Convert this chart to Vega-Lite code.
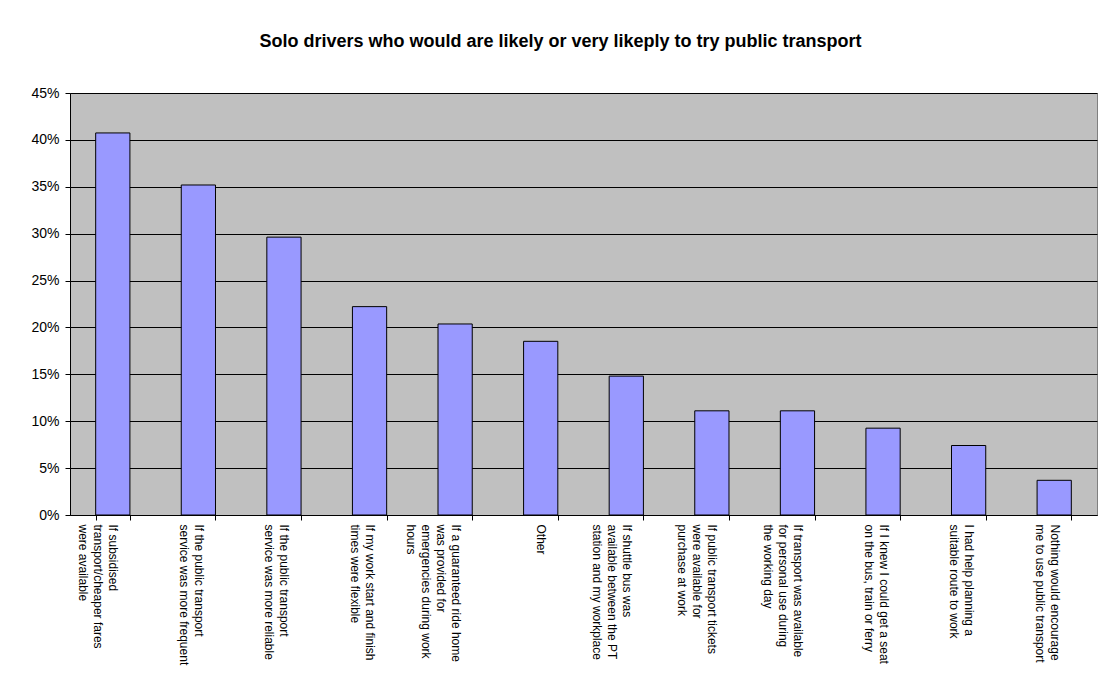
{
  "$schema": "https://vega.github.io/schema/vega-lite/v6.json",
  "width": 1027,
  "height": 422,
  "autosize": {"type": "none"},
  "padding": {"left": 70, "top": 93, "right": 10, "bottom": 169},
  "background": "white",
  "title": {
    "text": "Solo drivers who would are likely or very likeply to try public transport",
    "font": "Liberation Sans",
    "fontSize": 18,
    "fontWeight": "bold",
    "color": "black",
    "anchor": "middle",
    "offset": 35,
    "dx": -23
  },
  "data": {
    "values": [
      {"reason": "If subsidised\ntransport/cheaper fares\nwere available", "share": 0.4074},
      {"reason": "If the public transport\nservice was more frequent", "share": 0.3519},
      {"reason": "If the public transport\nservice was more reliable", "share": 0.2963},
      {"reason": "If my work start and finish\ntimes were flexible", "share": 0.2222},
      {"reason": "If a guaranteed ride home\nwas provided for\nemergencies during work\nhours", "share": 0.2037},
      {"reason": "Other", "share": 0.1852},
      {"reason": "If shuttle bus was\navailable between the PT\nstation and my workplace", "share": 0.1481},
      {"reason": "If public transport tickets\nwere available for\npurchase at work", "share": 0.1111},
      {"reason": "If transport was available\nfor personal use during\nthe working day", "share": 0.1111},
      {"reason": "If I knew I could get a seat\non the bus, train or ferry", "share": 0.0926},
      {"reason": "I had help planning a\nsuitable route to work", "share": 0.0741},
      {"reason": "Nothing would encourage\nme to use public transport", "share": 0.037}
    ]
  },
  "mark": {"type": "bar", "color": "#9999FF", "stroke": "black", "strokeWidth": 1},
  "encoding": {
    "x": {
      "field": "reason",
      "type": "nominal",
      "sort": null,
      "scale": {"paddingInner": 0.6, "paddingOuter": 0.3},
      "axis": {
        "title": null,
        "labelExpr": "split(datum.label, '\\n')",
        "labelAngle": 90,
        "labelAlign": "left",
        "labelBaseline": "middle",
        "labelFont": "Liberation Sans",
        "labelFontSize": 12,
        "labelLineHeight": 15,
        "labelColor": "black",
        "labelLimit": 400,
        "labelOverlap": false,
        "labelPadding": 4,
        "tickBand": "extent",
        "tickSize": 5,
        "tickColor": "black",
        "domainColor": "black",
        "grid": false
      }
    },
    "y": {
      "field": "share",
      "type": "quantitative",
      "scale": {"domain": [0, 0.45], "nice": false},
      "axis": {
        "title": null,
        "format": ".0%",
        "values": [0, 0.05, 0.1, 0.15, 0.2, 0.25, 0.3, 0.35, 0.4, 0.45],
        "labelFont": "Liberation Sans",
        "labelFontSize": 14,
        "labelColor": "black",
        "labelPadding": 6,
        "tickSize": 5,
        "tickColor": "black",
        "domainColor": "black",
        "grid": true,
        "gridColor": "black",
        "gridOpacity": 1,
        "gridWidth": 1
      }
    }
  },
  "config": {
    "view": {"fill": "#C0C0C0", "stroke": "#808080", "strokeWidth": 1}
  }
}
